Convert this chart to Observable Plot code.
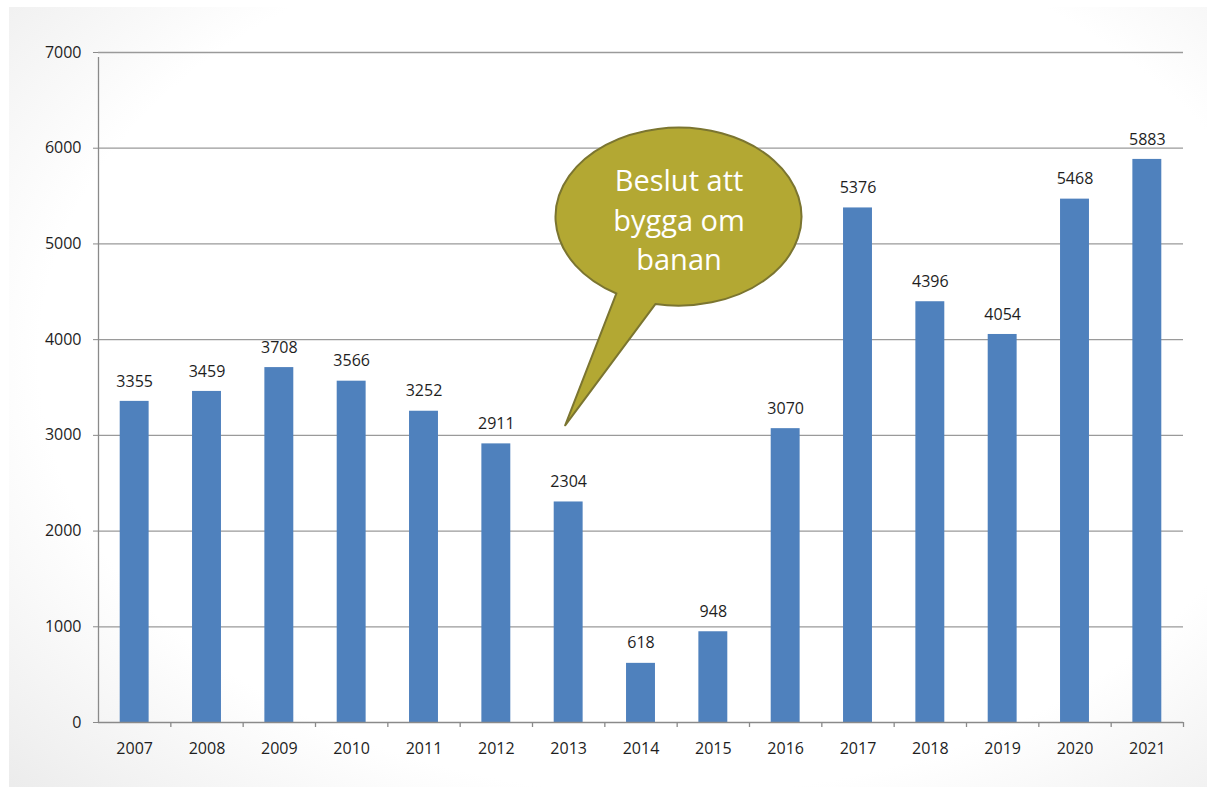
<!DOCTYPE html>
<html>
<head>
<meta charset="utf-8">
<script src="https://cdn.jsdelivr.net/npm/d3@7"></script>
<script src="https://cdn.jsdelivr.net/npm/@observablehq/plot@0.6"></script>
<style>
  html, body { margin: 0; padding: 0; background: #fff; }
  #bg { position: absolute; left: 9px; top: 7px; width: 1198px; height: 780px;
        background: radial-gradient(ellipse 75% 80% at 55% 45%, #ffffff 70%, #ececec 100%); }
  #chart { position: absolute; left: 0; top: 0; }
</style>
</head>
<body>
<div id="bg"></div>
<div id="chart"></div>
<script>
const years = ["2007","2008","2009","2010","2011","2012","2013","2014","2015","2016","2017","2018","2019","2020","2021"];
const values = [3355, 3459, 3708, 3566, 3252, 2911, 2304, 618, 948, 3070, 5376, 4396, 4054, 5468, 5883];
const yTicks = [0, 1000, 2000, 3000, 4000, 5000, 6000, 7000];
const bubbleText = "Beslut att\nbygga om\nbanan";
// annotation anchors (data space)
const bubbleTip = {year: "2013", value: 3100};
const bubbleCenter = {year: "2014", value: 5280};

const data = years.map((y, i) => ({year: y, value: values[i]}));

const W = 1215, H = 787;
const mL = 98, mR = 32, mT = 52, mB = 65;
const step = (W - mL - mR) / years.length;
const bw = step * 0.4;

const bubble = (index, scales) => {
  const g = d3.create("svg:g");
  const tx = scales.x(bubbleTip.year) + bw / 2 - 3;
  const ty = scales.y(bubbleTip.value);
  const cx = scales.x(bubbleCenter.year) + bw / 2 + 38;
  const cy = scales.y(bubbleCenter.value);
  const rx = 123, ry = 89;
  const a1 = 2.10, a2 = 1.76; // angles where the tail joins the ellipse
  const p1 = [cx + rx * Math.cos(a1), cy + ry * Math.sin(a1)];
  const p2 = [cx + rx * Math.cos(a2), cy + ry * Math.sin(a2)];
  const path = `M${p2[0]},${p2[1]} A${rx},${ry} 0 1 0 ${p1[0]},${p1[1]} L${tx},${ty} Z`;
  g.append("path").attr("d", path)
    .attr("fill", "#b3a833").attr("stroke", "#7b7530").attr("stroke-width", 2)
    .attr("stroke-linejoin", "round");
  return g.node();
};

const chart = Plot.plot({
  width: W, height: H,
  marginLeft: mL, marginRight: mR, marginTop: mT, marginBottom: mB,
  style: {background: "transparent", fontFamily: "'Open Sans', sans-serif", fontSize: "16px", color: "#1e1e1e"},
  x: {domain: years, paddingInner: 0.6, paddingOuter: 0.3, round: false, label: null},
  y: {domain: [0, 7000], label: null},
  marks: [
    Plot.ruleY(yTicks.slice(1), {stroke: "#9a9a9a", strokeWidth: 1.3, strokeOpacity: 1}),
    Plot.axisY({ticks: yTicks, tickSize: 5, tickPadding: 12, tickFormat: d => String(d), stroke: "#8a8a8a", strokeOpacity: 1, fill: "#1e1e1e", fontSize: 16, fontWeight: 500, label: null}),
    Plot.barY(data, {x: "year", y: "value", fill: "#4f81bd"}),
    Plot.ruleY([0], {stroke: "#8a8a8a", strokeWidth: 1.3}),
    Plot.ruleX([0], {x: () => years[0], dx: -step / 2, y1: 0, y2: 7000, stroke: "#8a8a8a", strokeWidth: 1.3, insetBottom: -5}),
    Plot.ruleX(years, {x: d => d, dx: step / 2, y1: 0, y2: 0, insetBottom: -5, stroke: "#8a8a8a", strokeWidth: 1.3}),
    Plot.axisX({tickSize: 0, tickPadding: 20, fill: "#1e1e1e", fontSize: 16, fontWeight: 500, label: null}),
    Plot.text(data, {x: "year", y: "value", text: d => String(d.value), dy: -20, fill: "#1e1e1e", fontSize: 16, fontWeight: 500}),
    bubble,
    Plot.text([bubbleCenter], {x: "year", y: "value", text: () => bubbleText, dx: 38, dy: 1, fill: "#ffffff", fontSize: 29, lineHeight: 1.36})
  ]
});
document.getElementById("chart").appendChild(chart);
</script>
</body>
</html>
